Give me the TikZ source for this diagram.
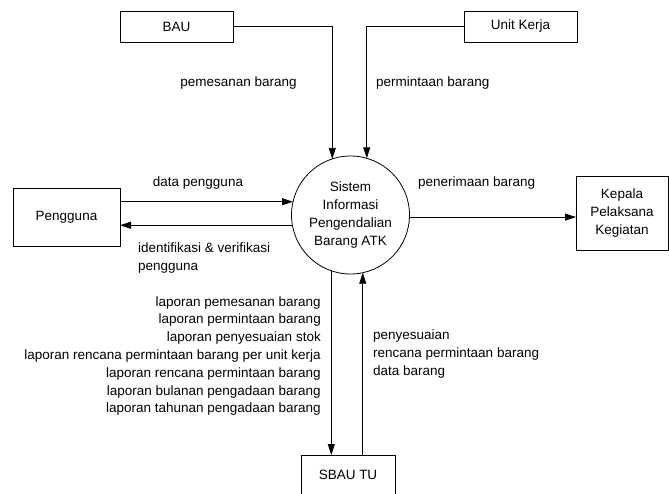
\documentclass[tikz,border=0pt]{standalone}
\usepackage{fontspec}
\setmainfont{Liberation Sans}
\usetikzlibrary{arrows.meta}
\begin{document}
\begin{tikzpicture}[x=1pt,y=-1pt,
  every node/.style={font=\fontsize{13.5}{17.8}\selectfont},
  entity/.style={draw, line width=0.8pt, inner sep=0pt, outer sep=0pt, align=center},
  proc/.style={draw, circle, line width=0.8pt, minimum size=118pt, inner sep=0pt, outer sep=0pt, align=center},
  flow/.style={line width=0.8pt, -{Triangle[length=11pt,width=7pt]}},
  lbl/.style={inner sep=0pt}]
\clip (0,0) rectangle (669,493);

% external entities
\node[entity, minimum width=113pt, minimum height=31pt] (bau) at (176.5,26.5) {BAU};
\node[entity, minimum width=113pt, minimum height=31pt] (unit) at (520.5,26.5) {Unit Kerja};
\node[entity, minimum width=107pt, minimum height=58pt] (peng) at (66.5,217) {Pengguna};
\node[entity, minimum width=92pt, minimum height=74pt] (kep) at (622,213) {Kepala\\Pelaksana\\Kegiatan};
\node[entity, minimum width=94pt, minimum height=40pt] (sbau) at (348,475) {SBAU TU};

% process
\node[proc] (sys) at (350.5,215) {Sistem\\Informasi\\Pengendalian\\Barang ATK};

% data flows
\draw[flow] (bau.east) -| (sys.108.3);
\draw[flow] (unit.west) -| (sys.74.8);
\draw[flow] (peng.east |- sys.167.3) -- (sys.167.3);
\draw[flow] (sys.190.7) -- (peng.east |- sys.190.7);
\draw[flow] (sys.358) -- (kep.west |- sys.358);
\draw[flow] (sys.251.7) -- (sbau.north -| sys.251.7);
\draw[flow] (sbau.north -| sys.282.2) -- (sys.282.2);

% flow labels
\node[lbl] (lpesan) at (238.5,83) {pemesanan barang};
\node[lbl, anchor=west] (lminta) at (376,83) {permintaan barang};
\node[lbl] (ldata) at (198,183) {data pengguna};
\node[lbl, anchor=west, align=left] (lident) at (138,258) {identifikasi \& verifikasi\\pengguna};
\node[lbl, anchor=west] (lterima) at (418,183) {penerimaan barang};
\node[lbl, anchor=east, align=right] (lapor) at (321,356) {laporan pemesanan barang\\laporan permintaan barang\\laporan penyesuaian stok\\laporan rencana permintaan barang per unit kerja\\laporan rencana permintaan barang\\laporan bulanan pengadaan barang\\laporan tahunan pengadaan barang};
\node[lbl, anchor=west, align=left] (lsesuai) at (373,354) {penyesuaian\\rencana permintaan barang\\data barang};
\end{tikzpicture}
\end{document}
